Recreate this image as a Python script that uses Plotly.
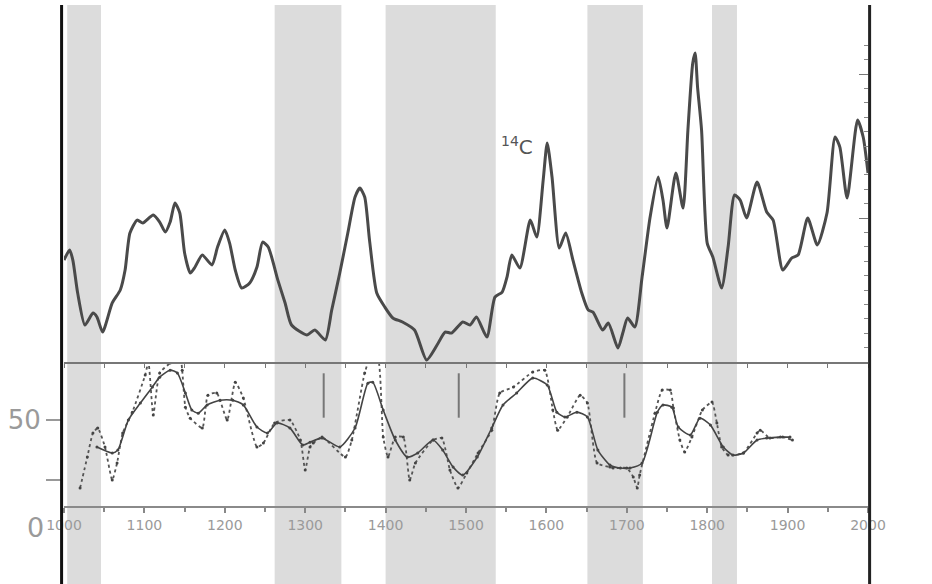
import plotly.graph_objects as go

# ---------------- data ----------------
c14_years = [1000, 1007, 1011, 1017, 1026, 1036, 1041, 1048, 1060, 1070, 1076, 1082, 1091, 1098,
             1111, 1119, 1126, 1132, 1138, 1144, 1150, 1157, 1163, 1172, 1184, 1191, 1200, 1206,
             1213, 1221, 1231, 1240, 1247, 1254, 1266, 1275, 1283, 1302, 1312, 1325, 1333, 1343,
             1353, 1362, 1368, 1374, 1380, 1389, 1399, 1409, 1421, 1436, 1451, 1464, 1474, 1482,
             1496, 1505, 1513, 1526, 1536, 1545, 1551, 1557, 1567, 1580, 1588, 1596, 1601, 1607,
             1616, 1624, 1633, 1644, 1652, 1658, 1670, 1677, 1689, 1695, 1701, 1710, 1719, 1729,
             1739, 1745, 1750, 1761, 1770, 1776, 1782, 1785, 1788, 1793, 1800, 1807, 1818, 1826,
             1834, 1841, 1849, 1862, 1874, 1882, 1894, 1905, 1913, 1925, 1937, 1949, 1959, 1965,
             1974, 1987, 1994, 2000]
c14_values = [70.8, 77.8, 70.8, 47.9, 25.7, 34.0, 31.3, 20.8, 41.0, 50.0, 63.9, 89.6, 98.6, 96.5,
              102.1, 97.2, 90.3, 97.2, 110.4, 103.5, 75.7, 61.8, 66.0, 74.3, 67.4, 79.9, 91.7, 82.6,
              63.9, 51.4, 54.9, 66.0, 83.3, 79.9, 56.9, 41.0, 25.7, 18.8, 22.2, 15.3, 36.1, 61.8,
              89.6, 114.6, 120.8, 114.6, 84.7, 47.9, 38.2, 30.6, 27.8, 22.2, 1.4, 11.8, 20.8, 20.1,
              27.8, 25.7, 31.3, 17.4, 45.1, 48.6, 59.0, 74.3, 65.3, 98.6, 86.8, 126.4, 152.1, 128.5,
              79.2, 89.6, 70.8, 47.9, 36.1, 34.7, 22.2, 27.1, 9.7, 20.1, 30.6, 24.3, 59.0, 100.7,
              128.5, 112.5, 93.1, 131.3, 106.9, 161.1, 207.6, 214.6, 191.0, 161.1, 82.6, 72.9, 51.4, 79.9,
              116.0, 112.5, 100.0, 125.0, 104.2, 98.6, 63.9, 72.2, 74.3, 100.0, 81.3, 103.5, 156.3, 149.3,
              113.9, 168.1, 156.3, 131.3]

solid_years = [1041, 1060, 1067, 1080, 1095, 1110, 1119, 1132, 1141, 1151, 1159, 1167, 1178, 1194,
               1210, 1223, 1240, 1253, 1265, 1281, 1297, 1306, 1321, 1343, 1362, 1378, 1384, 1397,
               1412, 1427, 1440, 1459, 1471, 1484, 1496, 1514, 1532, 1546, 1563, 1583, 1601, 1613,
               1623, 1638, 1651, 1664, 1679, 1692, 1704, 1719, 1738, 1745, 1756, 1764, 1779, 1791,
               1804, 1820, 1832, 1845, 1862, 1874, 1891, 1903]
solid_values = [38.8, 36.3, 37.5, 50.0, 57.1, 63.8, 67.9, 70.8, 69.6, 61.3, 54.2, 52.9, 56.3, 58.3,
                58.3, 56.3, 47.1, 44.6, 48.8, 46.7, 39.6, 40.8, 42.5, 38.8, 46.7, 65.4, 65.8, 54.2,
                41.7, 34.6, 36.3, 41.7, 37.5, 30.4, 27.1, 34.6, 46.7, 56.3, 61.3, 67.5, 64.6, 53.3,
                51.3, 53.3, 51.3, 37.5, 31.3, 30.0, 30.0, 32.1, 53.3, 56.3, 55.4, 47.1, 43.8, 50.8,
                47.9, 38.8, 35.4, 36.3, 41.7, 42.5, 42.9, 42.9]

dotted_years = [1020, 1029, 1036, 1042, 1051, 1060, 1066, 1073, 1085, 1101, 1105, 1111, 1119, 1132,
                1144, 1147, 1151, 1157, 1172, 1179, 1190, 1203, 1213, 1223, 1240, 1248, 1262, 1281,
                1294, 1300, 1306, 1310, 1321, 1350, 1358, 1374, 1383, 1391, 1397, 1403, 1412, 1422,
                1430, 1437, 1459, 1470, 1480, 1490, 1501, 1515, 1532, 1542, 1559, 1583, 1598, 1608,
                1614, 1626, 1642, 1651, 1663, 1679, 1683, 1700, 1708, 1713, 1716, 1735, 1744, 1754,
                1758, 1766, 1772, 1781, 1794, 1806, 1812, 1818, 1826, 1845, 1862, 1866, 1878, 1894,
                1906]
dotted_values = [21.7, 34.6, 44.6, 46.7, 38.8, 25.0, 32.1, 44.6, 53.3, 68.8, 74.2, 52.1, 69.6, 73.8,
                 77.9, 70.8, 55.4, 50.8, 46.7, 60.4, 61.3, 50.0, 65.8, 59.2, 38.8, 40.4, 48.8, 50.0,
                 41.7, 29.2, 38.8, 40.4, 42.9, 34.6, 41.7, 69.6, 77.9, 75.0, 42.9, 34.6, 42.9, 42.9,
                 25.0, 32.1, 41.7, 42.5, 29.2, 21.7, 27.9, 36.3, 45.8, 61.3, 63.8, 70.0, 70.8, 54.2,
                 45.8, 51.3, 60.4, 57.1, 32.1, 30.4, 30.0, 30.0, 26.3, 21.7, 27.1, 52.9, 62.5, 62.5,
                 55.0, 41.7, 36.7, 42.9, 54.2, 57.5, 48.8, 38.8, 35.4, 36.3, 44.6, 45.8, 42.5, 42.9,
                 41.7]

band_starts = [1004, 1262, 1400, 1651, 1806]
band_ends = [1046, 1345, 1537, 1720, 1837]

marker_years = [1323, 1491, 1697]

tick_years = list(range(1000, 2001, 100))
tick_labels = [str(y) for y in tick_years]
lower_tick_values = [25, 50]
lower_tick_labels = [" ", "50"]

# ---------------- figure ----------------
GREY_TXT = "#9a9a9a"
LINE = "#4a4a4a"

fig = go.Figure()

fig.add_trace(go.Scatter(
    x=c14_years, y=c14_values, xaxis="x2", yaxis="y2", mode="lines",
    line=dict(color=LINE, width=3, shape="spline", smoothing=0.6),
    hoverinfo="skip"))

fig.add_trace(go.Scatter(
    x=dotted_years, y=dotted_values, mode="lines+markers",
    line=dict(color="#555555", width=1.8, dash="dot", shape="spline", smoothing=0.5),
    marker=dict(size=3, color="#444444"), hoverinfo="skip"))

fig.add_trace(go.Scatter(
    x=solid_years, y=solid_values, mode="lines+markers",
    line=dict(color="#444444", width=1.6, shape="spline", smoothing=0.6),
    marker=dict(size=3, color="#444444"), hoverinfo="skip"))

shapes = []
for s, e in zip(band_starts, band_ends):
    shapes.append(dict(type="rect", xref="x", yref="paper", x0=s, x1=e, y0=-0.16, y1=1.0,
                       fillcolor="#dcdcdc", line=dict(width=0), layer="below"))
for m in marker_years:
    shapes.append(dict(type="line", xref="x", yref="y", x0=m, x1=m, y0=51, y1=69.5,
                       line=dict(color="#777777", width=2)))
# frame verticals
shapes.append(dict(type="line", xref="paper", yref="paper", x0=-0.003, x1=-0.003, y0=-0.16, y1=1.0,
                   line=dict(color="#111111", width=3)))
shapes.append(dict(type="line", xref="paper", yref="paper", x0=1.002, x1=1.002, y0=-0.16, y1=1.0,
                   line=dict(color="#222222", width=3)))

fig.update_layout(
    width=932, height=584, autosize=False,
    margin=dict(l=64, r=64, t=5, b=78),
    paper_bgcolor="white", plot_bgcolor="white",
    showlegend=False,
    shapes=shapes,
    xaxis=dict(domain=[0, 1], range=[1000, 2000], anchor="y",
               tickvals=tick_years, ticktext=tick_labels,
               ticks="outside", ticklen=5, tickcolor="#888888", tickwidth=1.5,
               minor=dict(ticks="outside", dtick=50, ticklen=4, tickcolor="#888888"),
               showline=True, linecolor="#8a8a8a", linewidth=2,
               tickfont=dict(family="DejaVu Sans", size=14, color=GREY_TXT),
               showgrid=False, zeroline=False),
    xaxis2=dict(domain=[0, 1], range=[1000, 2000], anchor="y2", matches="x",
                tickvals=list(range(1000, 2001, 50)), ticks="outside", ticklen=4,
                tickcolor="#777777", showticklabels=False,
                showline=True, linecolor="#777777", linewidth=2,
                showgrid=False, zeroline=False),
    yaxis=dict(domain=[0, 0.2874], range=[14.2, 74.2], anchor="x",
               tickvals=lower_tick_values, ticktext=lower_tick_labels,
               ticks="outside", ticklen=17, tickcolor="#999999", tickwidth=1.5,
               tickfont=dict(family="DejaVu Sans", size=26, color=GREY_TXT),
               showline=False, showgrid=False, zeroline=False),
    yaxis2=dict(domain=[0.2874, 1], range=[0, 248], anchor="x2", side="right",
                tickvals=[0, 100, 200], ticks="inside", ticklen=9, tickcolor="#777777",
                minor=dict(ticks="inside", tickvals=list(range(10, 230, 10)), ticklen=4,
                           tickcolor="#888888"),
                showticklabels=False, showline=False, showgrid=False, zeroline=False),
    annotations=[
        dict(text="<sup>14</sup>C", x=1563, y=150, xref="x2", yref="y2", showarrow=False,
             font=dict(family="DejaVu Sans", size=20, color="#555555")),
        dict(text="0", x=-0.035, y=-0.042, xref="paper", yref="paper", showarrow=False,
             xanchor="center", yanchor="middle",
             font=dict(family="DejaVu Sans", size=27, color=GREY_TXT)),
    ],
)

fig.write_html("out.html", config={"displayModeBar": False},
               post_script="document.body.style.margin='0px';")
